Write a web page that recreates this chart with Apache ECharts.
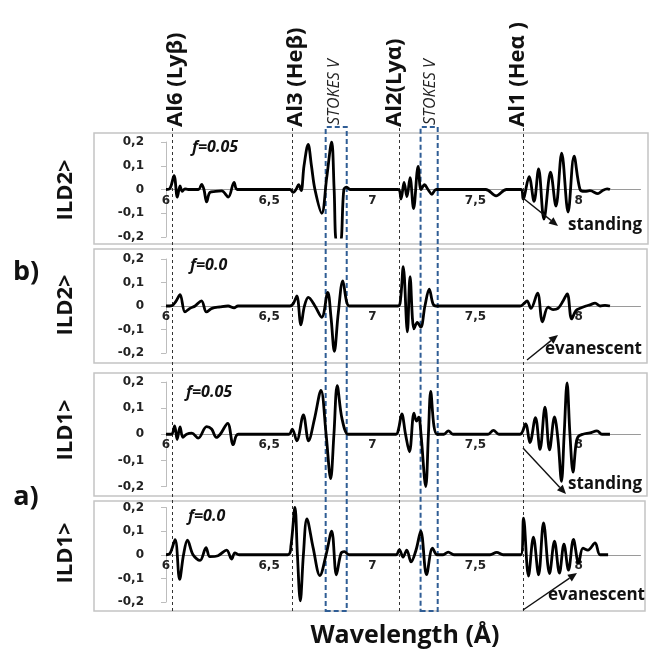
<!DOCTYPE html>
<html>
<head>
<meta charset="utf-8">
<script src="https://cdn.jsdelivr.net/npm/echarts@6/dist/echarts.min.js"></script>
<style>
html,body{margin:0;padding:0;background:#fff;}
#chart{width:650px;height:655px;}
</style>
</head>
<body>
<div id="chart"></div>
<script>
// ---- data (wavelength in Å, ILD signal) ----
const ild2_f005 = [[6.0,0],[6.019,0.004],[6.039,0.058],[6.055,-0.032],[6.068,0.015],[6.079,-0.008],[6.092,0.003],[6.108,0],[6.157,0],[6.173,0.022],[6.184,0.0],[6.197,-0.052],[6.213,-0.012],[6.24,-0.008],[6.27,-0.006],[6.302,-0.032],[6.33,0.03],[6.346,0],[6.601,0],[6.617,-0.012],[6.63,0.0],[6.643,0.02],[6.655,-0.005],[6.669,0.1],[6.689,0.19],[6.705,0.1],[6.722,0.0],[6.755,-0.10],[6.779,0.05],[6.803,0.2],[6.815,0.0],[6.827,-0.22],[6.845,-0.22],[6.862,0.0],[6.876,0.01],[6.892,0],[7.125,0],[7.139,-0.04],[7.154,0.03],[7.168,-0.03],[7.183,0.05],[7.2,-0.08],[7.222,0.097],[7.236,0.0],[7.253,0.02],[7.27,0.0],[7.289,-0.02],[7.309,0],[7.55,0],[7.6,-0.027],[7.65,0],[7.722,0],[7.731,-0.04],[7.76,0.054],[7.784,-0.05],[7.806,0.087],[7.832,-0.125],[7.864,0.073],[7.89,-0.07],[7.918,0.153],[7.949,-0.095],[7.978,0.14],[8.007,0],[8.031,-0.008],[8.055,-0.005],[8.094,-0.017],[8.118,-0.003],[8.138,0.003],[8.152,0]];

const ild2_f000 = [[6.0,0],[6.029,0.002],[6.048,0.02],[6.068,0.048],[6.092,-0.025],[6.116,-0.01],[6.141,0],[6.172,0.022],[6.196,-0.025],[6.223,-0.01],[6.262,-0.004],[6.301,0],[6.33,-0.008],[6.349,0],[6.601,0],[6.617,0.01],[6.634,0.043],[6.654,-0.08],[6.671,0.0],[6.69,0.037],[6.722,0.0],[6.755,-0.048],[6.784,0.058],[6.8,-0.05],[6.816,-0.193],[6.835,-0.03],[6.857,0.107],[6.875,0.02],[6.888,0],[7.125,0],[7.137,0.03],[7.15,0.167],[7.17,-0.11],[7.183,0.125],[7.202,-0.097],[7.218,-0.07],[7.235,-0.09],[7.255,0],[7.276,0.072],[7.294,0.01],[7.309,0],[7.716,0],[7.735,0.01],[7.75,0.022],[7.769,-0.01],[7.801,0.055],[7.825,-0.067],[7.852,-0.005],[7.876,-0.015],[7.9,-0.01],[7.924,0.02],[7.945,0.052],[7.966,-0.055],[7.987,-0.02],[8.007,-0.01],[8.036,0],[8.055,0.005],[8.08,0.012],[8.104,0],[8.128,0.003],[8.152,0]];

const ild1_f005 = [[6.0,0],[6.027,0.0],[6.042,0.032],[6.054,-0.02],[6.068,0.028],[6.082,-0.012],[6.1,0.0],[6.125,0.004],[6.156,-0.015],[6.197,0.029],[6.221,0.02],[6.244,-0.012],[6.263,0.0],[6.299,0.042],[6.326,-0.04],[6.35,0],[6.596,0],[6.612,0.02],[6.634,-0.025],[6.666,0.074],[6.691,-0.025],[6.72,0.06],[6.751,0.168],[6.776,0.0],[6.798,-0.17],[6.814,0.0],[6.83,0.186],[6.853,0.06],[6.882,0],[6.902,0],[7.115,0],[7.127,0.02],[7.143,0.078],[7.161,0.0],[7.18,-0.067],[7.202,0.081],[7.214,0.05],[7.225,0.065],[7.236,0.0],[7.259,-0.2],[7.272,0.0],[7.283,0.164],[7.299,0.03],[7.314,0],[7.347,0],[7.369,0.013],[7.391,0],[7.561,0],[7.587,0.015],[7.614,0],[7.716,0],[7.743,0.04],[7.764,-0.032],[7.791,0.064],[7.813,-0.058],[7.837,0.104],[7.859,-0.06],[7.883,0.066],[7.9,-0.02],[7.917,-0.18],[7.93,0.0],[7.944,0.197],[7.958,0.0],[7.973,-0.145],[7.987,-0.04],[7.997,-0.01],[8.021,0],[8.055,0.005],[8.089,0.013],[8.113,0],[8.152,0]];

const ild1_f000 = [[6.0,0],[6.019,0.005],[6.044,0.064],[6.066,-0.104],[6.085,0.0],[6.104,0.062],[6.131,0.0],[6.165,-0.024],[6.194,0.03],[6.213,-0.008],[6.252,-0.004],[6.294,0.02],[6.318,-0.018],[6.334,0.008],[6.354,0],[6.591,0],[6.606,0.04],[6.625,0.2],[6.637,0],[6.651,-0.195],[6.666,0],[6.683,0.152],[6.713,0.03],[6.746,-0.088],[6.776,0],[6.803,0.1],[6.826,-0.085],[6.848,0.005],[6.865,0.013],[6.887,0],[7.115,0],[7.131,0.022],[7.149,-0.01],[7.167,0.02],[7.188,-0.03],[7.212,0.02],[7.235,0.1],[7.263,-0.084],[7.292,0.028],[7.314,0],[7.343,0],[7.368,0.011],[7.396,0],[7.571,0],[7.603,0.01],[7.634,0],[7.72,0],[7.733,0.155],[7.757,-0.09],[7.781,0.075],[7.806,-0.085],[7.83,0.135],[7.859,-0.08],[7.883,0.058],[7.907,-0.078],[7.929,0.045],[7.951,-0.065],[7.975,0.065],[8.0,-0.035],[8.021,0.028],[8.045,0.02],[8.08,0.05],[8.104,0],[8.143,0]];

const lineMarks = [6.032, 6.609, 7.134, 7.729];        // Al6, Al3, Al2, Al1
const lineNames = ['Al6 (Lyβ)', 'Al3 (Heβ)', 'Al2(Lyα)', 'Al1 (Heα )'];
const stokesRanges = [[6.774, 6.876], [7.234, 7.317]];
const stokesName = 'STOKES V';
const panelSeries = [ild2_f005, ild2_f000, ild1_f005, ild1_f000];
const panelYNames = ['ILD2>', 'ILD2>', 'ILD1>', 'ILD1>'];
const panelF = ['f=0.05', 'f=0.0', 'f=0.05', 'f=0.0'];
const panelWave = ['standing', 'evanescent', 'standing', 'evanescent'];
const xTicks = [6, 6.5, 7, 7.5, 8];
const yTicks = [-0.2, -0.1, 0, 0.1, 0.2];
const xName = 'Wavelength (Å)';

// ---- layout ----
const X_MIN = 6, X_MAX = 8.3;
const GL = 166, GR = 9.5;
const grids = [
  {top: 142, height: 95},
  {top: 259, height: 94},
  {top: 382, height: 104.5},
  {top: 507.5, height: 94.5}
];
const boxes = [
  {x: 94, y: 133, w: 554, h: 111},
  {x: 94, y: 249, w: 553, h: 114},
  {x: 94, y: 373, w: 553, h: 123},
  {x: 94, y: 501, w: 551, h: 110}
];
const fmt = v => (Math.abs(v) < 1e-9 ? '0' : String(+v.toFixed(1)).replace('.', ','));
const tickFont = {fontFamily: '"DejaVu Sans", Verdana, sans-serif', fontWeight: 'bold', fontSize: 12, color: '#222'};
const N = grids.length;

const gridOpt = [], xAxes = [], yAxes = [], series = [];
grids.forEach((g, i) => {
  gridOpt.push({left: GL, right: GR, top: g.top, height: g.height, containLabel: false});
  xAxes.push({
    gridIndex: i, type: 'value', min: X_MIN, max: X_MAX, interval: 0.5,
    axisLine: {show: true, onZero: true, lineStyle: {color: '#9a9a9a', width: 1}},
    axisTick: {show: false}, splitLine: {show: false}, axisLabel: {show: false}
  });
  yAxes.push({
    gridIndex: i, type: 'value', min: -0.2, max: 0.2, interval: 0.1,
    axisLine: {show: true, onZero: false, lineStyle: {color: '#bdbdbd', width: 1}},
    axisTick: {show: true, length: 5, lineStyle: {color: '#bdbdbd'}},
    splitLine: {show: false},
    axisLabel: Object.assign({margin: 22, formatter: v => fmt(v)}, tickFont)
  });
  series.push({
    type: 'line', xAxisIndex: i, yAxisIndex: i, data: panelSeries[i],
    showSymbol: false, smooth: 0.35, clip: true, z: 5,
    lineStyle: {color: '#000', width: 2.8}
  });
});

// overlay grid for reference lines / Stokes V boxes (index N)
gridOpt.push({left: GL, right: GR, top: 127, height: 484});
xAxes.push({gridIndex: N, type: 'value', min: X_MIN, max: X_MAX, show: false});
yAxes.push({gridIndex: N, type: 'value', min: 0, max: 1, show: false});
series.push({
  type: 'line', xAxisIndex: N, yAxisIndex: N, data: [[X_MIN, 0]], showSymbol: false,
  lineStyle: {opacity: 0}, silent: true, z: 3,
  markLine: {
    silent: true, symbol: ['none', 'none'], label: {show: false},
    lineStyle: {color: '#333', width: 1, type: [3, 3]},
    data: lineMarks.map(v => ({xAxis: v}))
  },
  markArea: {
    silent: true,
    itemStyle: {color: 'rgba(0,0,0,0)', borderColor: '#2f5d95', borderWidth: 2, borderType: [5, 3]},
    data: stokesRanges.map(r => [{xAxis: r[0]}, {xAxis: r[1]}])
  }
});

// x tick-label grids: bottom edge sits on each panel's zero line
grids.forEach((g, i) => {
  const gi = N + 1 + i;
  gridOpt.push({left: GL, right: GR, top: g.top, height: g.height / 2});
  xAxes.push({
    gridIndex: gi, type: 'value', min: X_MIN, max: X_MAX, interval: 0.5, position: 'bottom',
    axisLine: {show: false}, axisTick: {show: false}, splitLine: {show: false},
    axisLabel: Object.assign({margin: 5, showMaxLabel: false,
      formatter: v => (xTicks.some(t => Math.abs(t - v) < 1e-6) ? fmt(v) : '')}, tickFont)
  });
  yAxes.push({gridIndex: gi, type: 'value', min: 0, max: 1, show: false});
});

// ---- annotations ----
const OS = '"Open Sans", "DejaVu Sans", sans-serif';
const graphic = [];
boxes.forEach(b => graphic.push({type: 'rect', z: 0, shape: {x: b.x, y: b.y, width: b.w, height: b.h},
  style: {fill: 'none', stroke: '#c4c4c4', lineWidth: 1.5}}));

const topLabelX = [176, 296, 395, 518];
lineNames.forEach((t, i) => graphic.push({type: 'text', x: topLabelX[i], y: 127, rotation: Math.PI / 2,
  style: {text: t, font: 'bold 22px ' + OS, fill: '#111', align: 'left', verticalAlign: 'middle'}}));
[334, 430].forEach(x => graphic.push({type: 'text', x: x, y: 125, rotation: Math.PI / 2,
  style: {text: stokesName, font: 'italic 16px ' + OS, fill: '#222', align: 'left', verticalAlign: 'middle'}}));

const yNameY = [190, 305, 430, 553];
panelYNames.forEach((t, i) => graphic.push({type: 'text', x: 66, y: yNameY[i], rotation: Math.PI / 2,
  style: {text: t, font: 'bold 22px ' + OS, fill: '#111', align: 'center', verticalAlign: 'middle'}}));
graphic.push({type: 'text', x: 26, y: 272, style: {text: 'b)', font: 'bold 27px ' + OS, fill: '#111', align: 'center', verticalAlign: 'middle'}});
graphic.push({type: 'text', x: 26, y: 497, style: {text: 'a)', font: 'bold 27px ' + OS, fill: '#111', align: 'center', verticalAlign: 'middle'}});

const fPos = [[192, 147], [190, 265], [186, 392], [188, 516]];
panelF.forEach((t, i) => graphic.push({type: 'text', x: fPos[i][0], y: fPos[i][1],
  style: {text: t, font: 'italic bold 16px ' + OS, fill: '#111', align: 'left', verticalAlign: 'middle'}}));

const wavePos = [[568, 225], [545, 349], [568, 484], [548, 595]];
panelWave.forEach((t, i) => graphic.push({type: 'text', x: wavePos[i][0], y: wavePos[i][1],
  style: {text: t, font: 'bold 17px ' + OS, fill: '#111', align: 'left', verticalAlign: 'middle'}}));

function arrow(x1, y1, x2, y2) {
  const a = Math.atan2(y2 - y1, x2 - x1), L = 9, W = 4;
  const bx = x2 - L * Math.cos(a), by = y2 - L * Math.sin(a);
  graphic.push({type: 'line', shape: {x1: x1, y1: y1, x2: bx, y2: by}, style: {stroke: '#111', lineWidth: 1.4}, z: 10});
  graphic.push({type: 'polygon', z: 10, shape: {points: [[x2, y2],
    [bx + W * Math.sin(a), by - W * Math.cos(a)], [bx - W * Math.sin(a), by + W * Math.cos(a)]]},
    style: {fill: '#111'}});
}
arrow(523, 198, 558, 226);
arrow(527, 360, 558, 335);
arrow(523, 448, 566, 494);
arrow(523, 610, 577, 573);

graphic.push({type: 'text', x: 405, y: 636, style: {text: xName, font: 'bold 25px ' + OS, fill: '#111', align: 'center', verticalAlign: 'middle'}});

const chart = echarts.init(document.getElementById('chart'), null, {renderer: 'canvas'});
chart.setOption({
  animation: false,
  backgroundColor: '#fff',
  grid: gridOpt, xAxis: xAxes, yAxis: yAxes, series: series, graphic: graphic
});
</script>
</body>
</html>
